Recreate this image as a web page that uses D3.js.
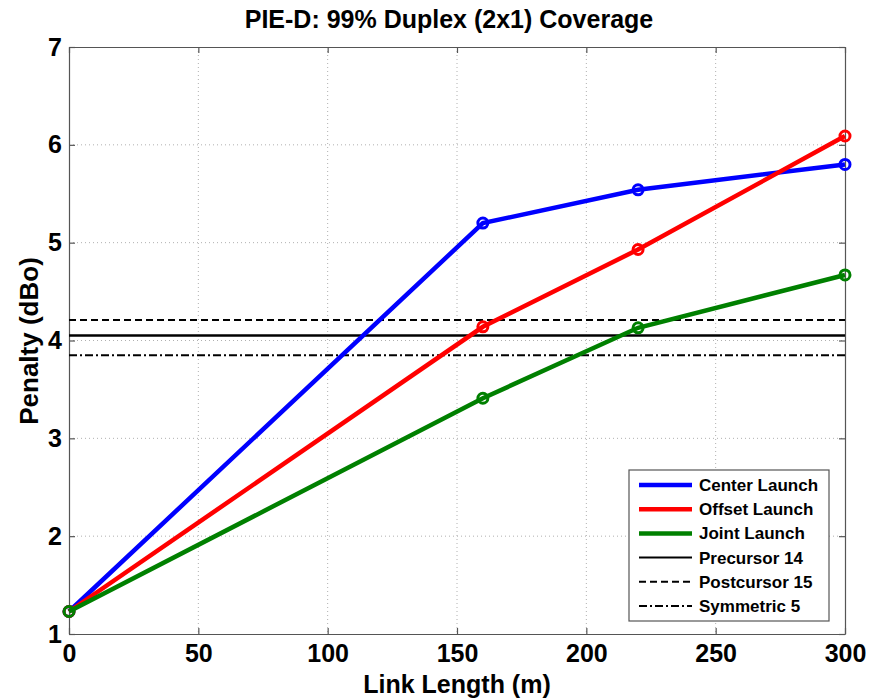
<!DOCTYPE html>
<html>
<head>
<meta charset="utf-8">
<script src="https://cdn.jsdelivr.net/npm/d3@7"></script>
<style>
  body { margin: 0; background: #fff; }
  text { font-family: "Liberation Sans", Arial, sans-serif; font-weight: bold; }
</style>
</head>
<body>
<svg id="chart" width="878" height="700"></svg>
<script>
// data
const linkLength = [0, 160, 220, 300];
const centerLaunch = [1.23, 5.2, 5.54, 5.8];
const offsetLaunch = [1.23, 4.14, 4.93, 6.09];
const jointLaunch = [1.23, 3.41, 4.13, 4.67];
const refNames = ["Precursor 14", "Postcursor 15", "Symmetric 5"];
const refValues = [4.05, 4.21, 3.85];
const xTicks = [0, 50, 100, 150, 200, 250, 300];
const yTicks = [1, 2, 3, 4, 5, 6, 7];

const series = [
  { name: "Center Launch", values: centerLaunch, color: "#0000ff" },
  { name: "Offset Launch", values: offsetLaunch, color: "#ff0000" },
  { name: "Joint Launch", values: jointLaunch, color: "#008000" },
];
const dashes = ["none", "7,4", "8,3,2,3"];

const svg = d3.select("#chart");
const m = { left: 69, right: 845, top: 47, bottom: 634 };

const x = d3.scaleLinear().domain([0, 300]).range([m.left, m.right]);
const y = d3.scaleLinear().domain([1, 7]).range([m.bottom, m.top]);

// grid
const grid = svg.append("g").attr("stroke", "#b0b0b0").attr("stroke-width", 1).attr("stroke-dasharray", "1,3");
grid.selectAll(".gx").data(xTicks.slice(1, -1)).join("line").attr("class", "gx")
  .attr("x1", d => x(d)).attr("x2", d => x(d)).attr("y1", m.top).attr("y2", m.bottom);
grid.selectAll(".gy").data(yTicks.slice(1, -1)).join("line").attr("class", "gy")
  .attr("x1", m.left).attr("x2", m.right).attr("y1", d => y(d)).attr("y2", d => y(d));

// axes with inward ticks
const xAxis = svg.append("g").attr("transform", `translate(0,${m.bottom})`)
  .call(d3.axisBottom(x).tickValues(xTicks).tickFormat(d3.format("d")).tickSizeInner(-6).tickSizeOuter(0).tickPadding(10));
const xAxisTop = svg.append("g").attr("transform", `translate(0,${m.top})`)
  .call(d3.axisTop(x).tickValues(xTicks).tickSizeInner(-6).tickSizeOuter(0).tickFormat(""));
const yAxis = svg.append("g").attr("transform", `translate(${m.left},0)`)
  .call(d3.axisLeft(y).tickValues(yTicks).tickFormat(d3.format("d")).tickSizeInner(-6).tickSizeOuter(0).tickPadding(7));
const yAxisRight = svg.append("g").attr("transform", `translate(${m.right},0)`)
  .call(d3.axisRight(y).tickValues(yTicks).tickSizeInner(-6).tickSizeOuter(0).tickFormat(""));
[xAxis, xAxisTop, yAxis, yAxisRight].forEach(a => {
  a.selectAll("path, line").attr("stroke", "#555").attr("stroke-width", 1.2);
  a.selectAll("text").attr("fill", "#000").style("font-size", "25px")
    .style("font-family", "Liberation Sans, Arial, sans-serif").style("font-weight", "bold");
});

// reference lines
svg.append("g").selectAll("line").data(refValues).join("line")
  .attr("x1", m.left).attr("x2", m.right)
  .attr("y1", d => y(d)).attr("y2", d => y(d))
  .attr("stroke", "#000").attr("stroke-width", (d, i) => i == 0 ? 2.5 : 2)
  .attr("stroke-dasharray", (d, i) => dashes[i]);

// series lines and markers
const line = d3.line().x((d, i) => x(linkLength[i])).y(d => y(d));
series.forEach(s => {
  svg.append("path").datum(s.values).attr("d", line)
    .attr("fill", "none").attr("stroke", s.color).attr("stroke-width", 4.5);
  svg.append("g").selectAll("circle").data(s.values).join("circle")
    .attr("cx", (d, i) => x(linkLength[i])).attr("cy", d => y(d)).attr("r", 5)
    .attr("fill", "none").attr("stroke", s.color).attr("stroke-width", 3);
});

// title and axis labels
svg.append("text").attr("x", 449).attr("y", 28).attr("text-anchor", "middle")
  .style("font-size", "25px").text("PIE-D: 99% Duplex (2x1) Coverage");
svg.append("text").attr("x", 457).attr("y", 693).attr("text-anchor", "middle")
  .style("font-size", "25px").text("Link Length (m)");
svg.append("text").attr("transform", `translate(38,341) rotate(-90)`)
  .attr("text-anchor", "middle").style("font-size", "26px").text("Penalty (dBo)");

// legend
const legendItems = series.map(s => ({ name: s.name, color: s.color, width: 4.5, dash: "none" }))
  .concat(refNames.map((n, i) => ({ name: n, color: "#000", width: 2, dash: dashes[i] })));
const lg = svg.append("g");
lg.append("rect").attr("x", 629).attr("y", 470).attr("width", 200).attr("height", 151)
  .attr("fill", "#fff").attr("stroke", "#555").attr("stroke-width", 1.2);
const rowY = d3.scaleBand().domain(legendItems.map(d => d.name)).range([473, 618]);
const rows = lg.selectAll("g").data(legendItems).join("g")
  .attr("transform", d => `translate(0,${rowY(d.name) + rowY.bandwidth() / 2})`);
rows.append("line").attr("x1", 639).attr("x2", 692)
  .attr("stroke", d => d.color).attr("stroke-width", d => d.width).attr("stroke-dasharray", d => d.dash);
rows.append("text").attr("x", 699).attr("y", 6).style("font-size", "17px").text(d => d.name);
</script>
</body>
</html>
